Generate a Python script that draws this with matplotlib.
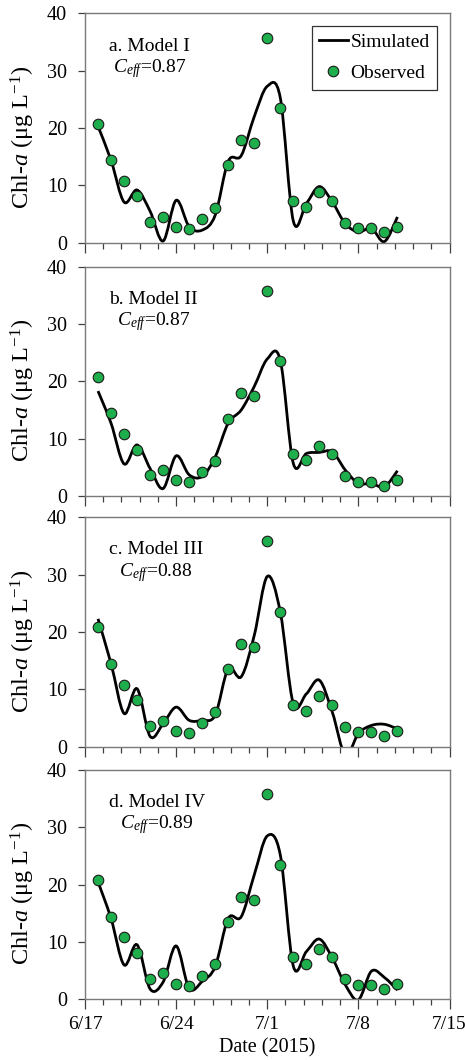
import datetime as dt
import numpy as np
import matplotlib
matplotlib.use("Agg")
import matplotlib.pyplot as plt
import matplotlib.dates as mdates
from matplotlib.path import Path
from matplotlib.patches import PathPatch
from matplotlib.ticker import FixedLocator, FuncFormatter

plt.rcParams['font.family'] = ['Liberation Serif', 'DejaVu Serif']
plt.rcParams['mathtext.fontset'] = 'custom'
plt.rcParams['mathtext.rm'] = 'Liberation Serif'
plt.rcParams['mathtext.it'] = 'Liberation Serif:italic'

# data (Chl-a, ug/L), daily 6/18 .. 7/11 2015
dates = ['6/18', '6/19', '6/20', '6/21', '6/22', '6/23', '6/24', '6/25',
         '6/26', '6/27', '6/28', '6/29', '6/30', '7/1', '7/2', '7/3',
         '7/4', '7/5', '7/6', '7/7', '7/8', '7/9', '7/10', '7/11']
observed = [20.8, 14.4, 10.8, 8.1, 3.6, 4.5, 2.7, 2.4, 4.1, 6.1, 13.5, 17.9,
            17.4, 35.8, 23.5, 7.3, 6.2, 8.8, 7.3, 3.5, 2.5, 2.5, 1.8, 2.7]
sim_I = [20.3, 14.4, 7.1, 9.2, 5.5, 0.3, 7.4, 2.8, 2.2, 4.8, 14.2, 15.2,
         22.0, 27.3, 25.3, 3.8, 6.8, 9.8, 7.1, 3.3, 1.9, 2.5, 0.2, 4.5]
sim_II = [18.3, 12.7, 5.6, 8.9, 4.8, 1.3, 7.0, 3.7, 3.4, 6.8, 12.7, 15.0,
          19.1, 23.9, 23.7, 5.7, 7.4, 7.6, 7.7, 4.5, 2.2, 2.2, 1.6, 4.4]
sim_III = [22.3, 14.5, 5.8, 10.1, 1.8, 4.0, 6.9, 4.6, 4.6, 5.5, 13.6, 12.2,
           19.4, 29.7, 23.5, 7.5, 9.2, 11.6, 6.0, -1.5, 2.3, 3.7, 3.9, 3.1]
sim_IV = [20.5, 14.1, 6.0, 9.5, 1.8, 3.0, 9.3, 1.9, 3.1, 5.7, 14.1, 14.4,
          21.7, 28.5, 25.2, 5.8, 8.3, 10.5, 7.2, 2.5, -0.1, 4.9, 3.8, 1.6]

models = ['a. Model I', 'b. Model II', 'c. Model III', 'd. Model IV']
ceff = ['0.87', '0.87', '0.88', '0.89']
sims = [sim_I, sim_II, sim_III, sim_IV]
xticklabels = ['6/17', '6/24', '7/1', '7/8', '7/15']

GREEN = '#1eae4b'


def to_num(s):
    m, d = s.split('/')
    return mdates.date2num(dt.datetime(2015, int(m), int(d)))


def smooth_path(x, y):
    # excel-like smoothed line: cubic bezier through every point
    x = np.asarray(x, float)
    y = np.asarray(y, float)
    px = np.concatenate([[x[0]], x, [x[-1]]])
    py = np.concatenate([[y[0]], y, [y[-1]]])
    verts = [(x[0], y[0])]
    codes = [Path.MOVETO]
    for i in range(len(x) - 1):
        c1 = (x[i] + (x[i + 1] - px[i]) / 6, y[i] + (y[i + 1] - py[i]) / 6)
        c2 = (x[i + 1] - (px[i + 3] - x[i]) / 6, y[i + 1] - (py[i + 3] - y[i]) / 6)
        verts += [c1, c2, (x[i + 1], y[i + 1])]
        codes += [Path.CURVE4] * 3
    return Path(verts, codes)


xd = [to_num(s) for s in dates]
xmaj = [to_num(s) for s in xticklabels]

fig = plt.figure(figsize=(4.65, 10.6), dpi=100)
bottoms = [0.7710, 0.5321, 0.2956, 0.0573]
H = 0.2163

for k in range(4):
    ax = fig.add_axes([0.1828, bottoms[k], 0.7839, H])
    ax.add_patch(PathPatch(smooth_path(xd, sims[k]), fill=False,
                           edgecolor='black', lw=2.0, zorder=2))
    ax.plot(xd, observed, 'o', ms=7.6, mfc=GREEN, mec='#1a1a1a', mew=0.8,
            zorder=3, label='Observed')
    ax.set_xlim(xmaj[0], xmaj[-1])
    ax.set_ylim(0, 40)
    ax.set_yticks([0, 10, 20, 30, 40])
    ax.xaxis.set_major_locator(FixedLocator(xmaj))
    ax.xaxis.set_minor_locator(FixedLocator(np.arange(xmaj[0], xmaj[-1] + 0.01, 1.4)))
    if k == 3:
        ax.xaxis.set_major_formatter(FuncFormatter(
            lambda v, p: f"{mdates.num2date(v).month}/{mdates.num2date(v).day}"))
        ax.set_xlabel('Date (2015)', fontsize=14.5, labelpad=4)
    else:
        ax.set_xticklabels([])
    ax.tick_params(axis='both', which='major', labelsize=14.5, direction='out',
                   color='#404040', width=0.9)
    ax.tick_params(axis='x', which='major', length=7, pad=5, labelsize=14)
    ax.tick_params(axis='x', which='minor', length=4.5, color='#404040', width=0.9)
    ax.tick_params(axis='y', which='major', length=5, pad=8)
    for sp in ax.spines.values():
        sp.set_color('#7a7a7a')
        sp.set_linewidth(1.0)

    ax.text(0.066, 0.895, models[k] + '\n$C_{eff}$=' + ceff[k],
            transform=ax.transAxes, ha='left', va='top', multialignment='center',
            fontsize=14, linespacing=1.15)

    fig.text(22.5 / 465, bottoms[k] + H / 2 - 0.0085,
             'Chl-$a$ (μg L$^{-1}$)', rotation=90, ha='center', va='center',
             fontsize=17.5)

    if k == 0:
        ax.plot([], [], color='black', lw=2.0, label='Simulated')
        h, l = ax.get_legend_handles_labels()
        leg = ax.legend(h[::-1], l[::-1], loc='upper right',
                        bbox_to_anchor=(0.966, 0.945), borderaxespad=0,
                        fontsize=14, frameon=True, fancybox=False,
                        edgecolor='black', handlelength=1.45,
                        handletextpad=0.15, labelspacing=0.7, borderpad=0.38)
        leg.get_frame().set_linewidth(0.9)

fig.savefig('out.png', dpi=100)
